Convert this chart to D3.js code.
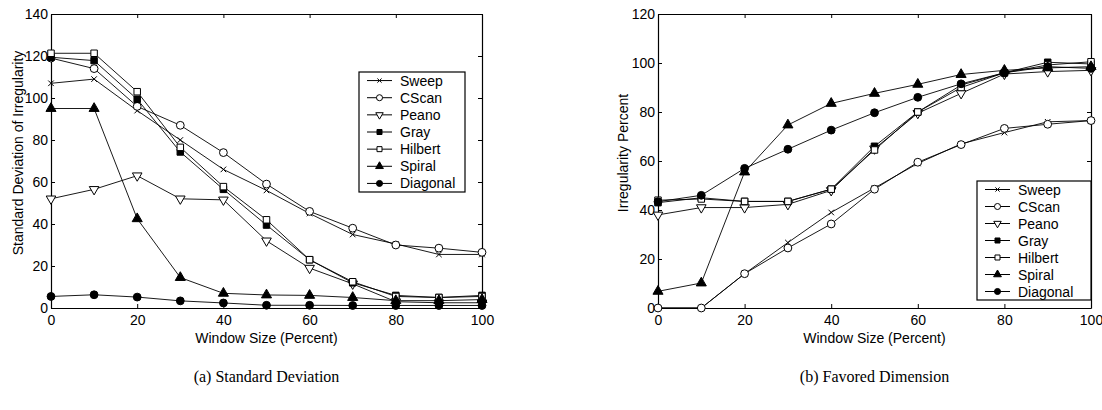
<!DOCTYPE html>
<html lang="en">
    <head>
        <meta charset="utf-8">
        <title>Irregularity vs Window Size</title>
        <script src="https://d3js.org/d3.v7.min.js"></script>
        <style type="text/css">
            body { margin: 0; background: white; }
            svg { display: block; }
            .tick text { font-family: "Liberation Sans", Arial, sans-serif; font-size: 14px; fill: black; }
            .tick line, .domain { stroke: black; }
            .title { font-family: "Liberation Sans", Arial, sans-serif; font-size: 14px; }
            .legend text { font-family: "Liberation Sans", Arial, sans-serif; font-size: 14px; }
            .caption { font-family: "Liberation Serif", "Times New Roman", serif; font-size: 16px; }
        </style>
    </head>
    <body>
        <svg width="1102" height="410"></svg>
        <script type="text/javascript">

            // window sizes (percent)
            const windowSizes = [0, 10, 20, 30, 40, 50, 60, 70, 80, 90, 100];
            const methods = ["Sweep", "CScan", "Peano", "Gray", "Hilbert", "Spiral", "Diagonal"];

            // (a) standard deviation of irregularity
            const sdSweep    = [107, 109, 94, 80, 66, 56, 45, 35, 30.5, 25.5, 25.5];
            const sdCScan    = [119, 114, 96, 87, 74, 59, 46, 38, 30, 28.5, 26.5];
            const sdPeano    = [52, 56.5, 63, 52, 51.5, 32, 19, 11.5, 3, 2.5, 2.5];
            const sdGray     = [119.4, 117.8, 99.4, 74.3, 56.5, 39.5, 23, 12, 6, 5, 6];
            const sdHilbert  = [121.3, 121.3, 103, 76.5, 57.8, 42, 23, 12.5, 5.5, 5, 5.5];
            const sdSpiral   = [95, 95, 42.5, 14.5, 7, 6.2, 6, 5, 3.5, 3.5, 4];
            const sdDiagonal = [5.5, 6.3, 5.2, 3.4, 2.4, 1.3, 1.3, 1.2, 1.2, 1.2, 1.2];

            // (b) favored dimension, irregularity percent
            const fdSweep    = [0, 0, 14, 26.7, 39, 49, 59, 67, 71.6, 76, 76.5];
            const fdCScan    = [0, 0, 14, 24.5, 34.3, 48.5, 59.5, 66.7, 73.3, 75, 76.5];
            const fdPeano    = [38, 41, 41, 42.3, 48, 65, 79.5, 87.6, 95.5, 96.5, 97];
            const fdGray     = [43, 45, 43.5, 43.5, 48.5, 66, 80, 91, 96, 100.3, 99.6];
            const fdHilbert  = [44, 44.5, 43.5, 43.5, 48.5, 64.5, 80, 90, 96, 99.2, 100.5];
            const fdSpiral   = [6.8, 10.2, 55.5, 74.7, 83.5, 87.6, 91.3, 95.3, 97, 98, 98.5];
            const fdDiagonal = [43.4, 46, 57, 64.8, 72.6, 79.7, 86, 91.5, 96, 98.5, 97.8];

            const xTicks = [0, 20, 40, 60, 80, 100];
            const sdTicks = [0, 20, 40, 60, 80, 100, 120, 140];
            const fdTicks = [0, 20, 40, 60, 80, 100, 120];

            const svg = d3.select("svg");

            // marker for each method: symbol, fill, rotation
            const markers = {
                Sweep:    {type: d3.symbolX, size: 22, fill: "none", rot: 0},
                CScan:    {type: d3.symbolCircle, size: 48, fill: "white", rot: 0},
                Peano:    {type: d3.symbolTriangle, size: 40, fill: "white", rot: 180},
                Gray:     {type: d3.symbolSquare, size: 42, fill: "black", rot: 0},
                Hilbert:  {type: d3.symbolSquare, size: 42, fill: "white", rot: 0},
                Spiral:   {type: d3.symbolTriangle, size: 44, fill: "black", rot: 0},
                Diagonal: {type: d3.symbolCircle, size: 48, fill: "black", rot: 0}
            };

            function drawMarker(g, name, x, y, scale) {
                const m = markers[name];
                g.append("path")
                    .attr("d", d3.symbol().type(m.type).size(m.size * scale)())
                    .attr("transform", `translate(${x},${y}) rotate(${m.rot})`)
                    .attr("fill", m.fill)
                    .attr("stroke", "black")
                    .attr("stroke-width", 1);
            }

            function panel(opt) {
                const g = svg.append("g");
                const x = d3.scaleLinear().domain([0, 100]).range([opt.left, opt.right]);
                const y = d3.scaleLinear().domain([0, opt.yMax]).range([opt.bottom, opt.top]);

                // axes with inward ticks on all four sides
                g.append("g").attr("transform", `translate(0,${opt.bottom})`)
                    .call(d3.axisBottom(x).tickValues(xTicks).tickSizeInner(-4).tickSizeOuter(0).tickPadding(7));
                g.append("g").attr("transform", `translate(0,${opt.top})`)
                    .call(d3.axisTop(x).tickValues(xTicks).tickSizeInner(-4).tickSizeOuter(0).tickFormat(""));
                g.append("g").attr("transform", `translate(${opt.left},0)`)
                    .call(d3.axisLeft(y).tickValues(opt.yTicks).tickSizeInner(-4).tickSizeOuter(0).tickPadding(3));
                g.append("g").attr("transform", `translate(${opt.right},0)`)
                    .call(d3.axisRight(y).tickValues(opt.yTicks).tickSizeInner(-4).tickSizeOuter(0).tickFormat(""));
                g.selectAll(".domain").attr("stroke-width", 1.2);

                const line = d3.line().x((d, i) => x(windowSizes[i])).y(d => y(d));

                methods.forEach((name, k) => {
                    g.append("path")
                        .datum(opt.series[k])
                        .attr("d", line)
                        .attr("fill", "none")
                        .attr("stroke", "black")
                        .attr("stroke-width", 0.9);
                });
                methods.forEach((name, k) => {
                    opt.series[k].forEach((v, i) => drawMarker(g, name, x(windowSizes[i]), y(v), 1));
                });

                // axis titles
                g.append("text").attr("class", "title")
                    .attr("x", (opt.left + opt.right) / 2).attr("y", opt.bottom + 35)
                    .attr("text-anchor", "middle")
                    .text("Window Size (Percent)");
                g.append("text").attr("class", "title")
                    .attr("transform", `translate(${opt.yTitleX},153) rotate(-90)`)
                    .attr("text-anchor", "middle")
                    .text(opt.yTitle);

                // legend
                const lg = g.append("g").attr("class", "legend");
                lg.append("rect")
                    .attr("x", opt.legend[0]).attr("y", opt.legend[1])
                    .attr("width", opt.legend[2]).attr("height", opt.legend[3])
                    .attr("fill", "white").attr("stroke", "black").attr("stroke-width", 1.2);
                const rowH = opt.legend[3] / methods.length;
                methods.forEach((name, k) => {
                    const cy = opt.legend[1] + rowH * (k + 0.5);
                    const lx = opt.legend[0] + 8;
                    lg.append("line")
                        .attr("x1", lx).attr("x2", lx + 25)
                        .attr("y1", cy).attr("y2", cy)
                        .attr("stroke", "black");
                    drawMarker(lg, name, lx + 12.5, cy, 0.6);
                    lg.append("text")
                        .attr("x", lx + 33).attr("y", cy + 5)
                        .text(name);
                });

                g.append("text").attr("class", "caption")
                    .attr("x", (opt.left + opt.right) / 2).attr("y", 382)
                    .attr("text-anchor", "middle")
                    .text(opt.caption);
            }

            panel({
                left: 51, right: 482, top: 14, bottom: 308,
                yMax: 140, yTicks: sdTicks,
                series: [sdSweep, sdCScan, sdPeano, sdGray, sdHilbert, sdSpiral, sdDiagonal],
                yTitle: "Standard Deviation of Irregularity", yTitleX: 23,
                legend: [359, 72, 106, 120],
                caption: "(a) Standard Deviation"
            });

            panel({
                left: 658, right: 1091, top: 14, bottom: 308,
                yMax: 120, yTicks: fdTicks,
                series: [fdSweep, fdCScan, fdPeano, fdGray, fdHilbert, fdSpiral, fdDiagonal],
                yTitle: "Irregularity Percent", yTitleX: 628,
                legend: [977, 181, 114, 119],
                caption: "(b) Favored Dimension"
            });

        </script>
    </body>
</html>
